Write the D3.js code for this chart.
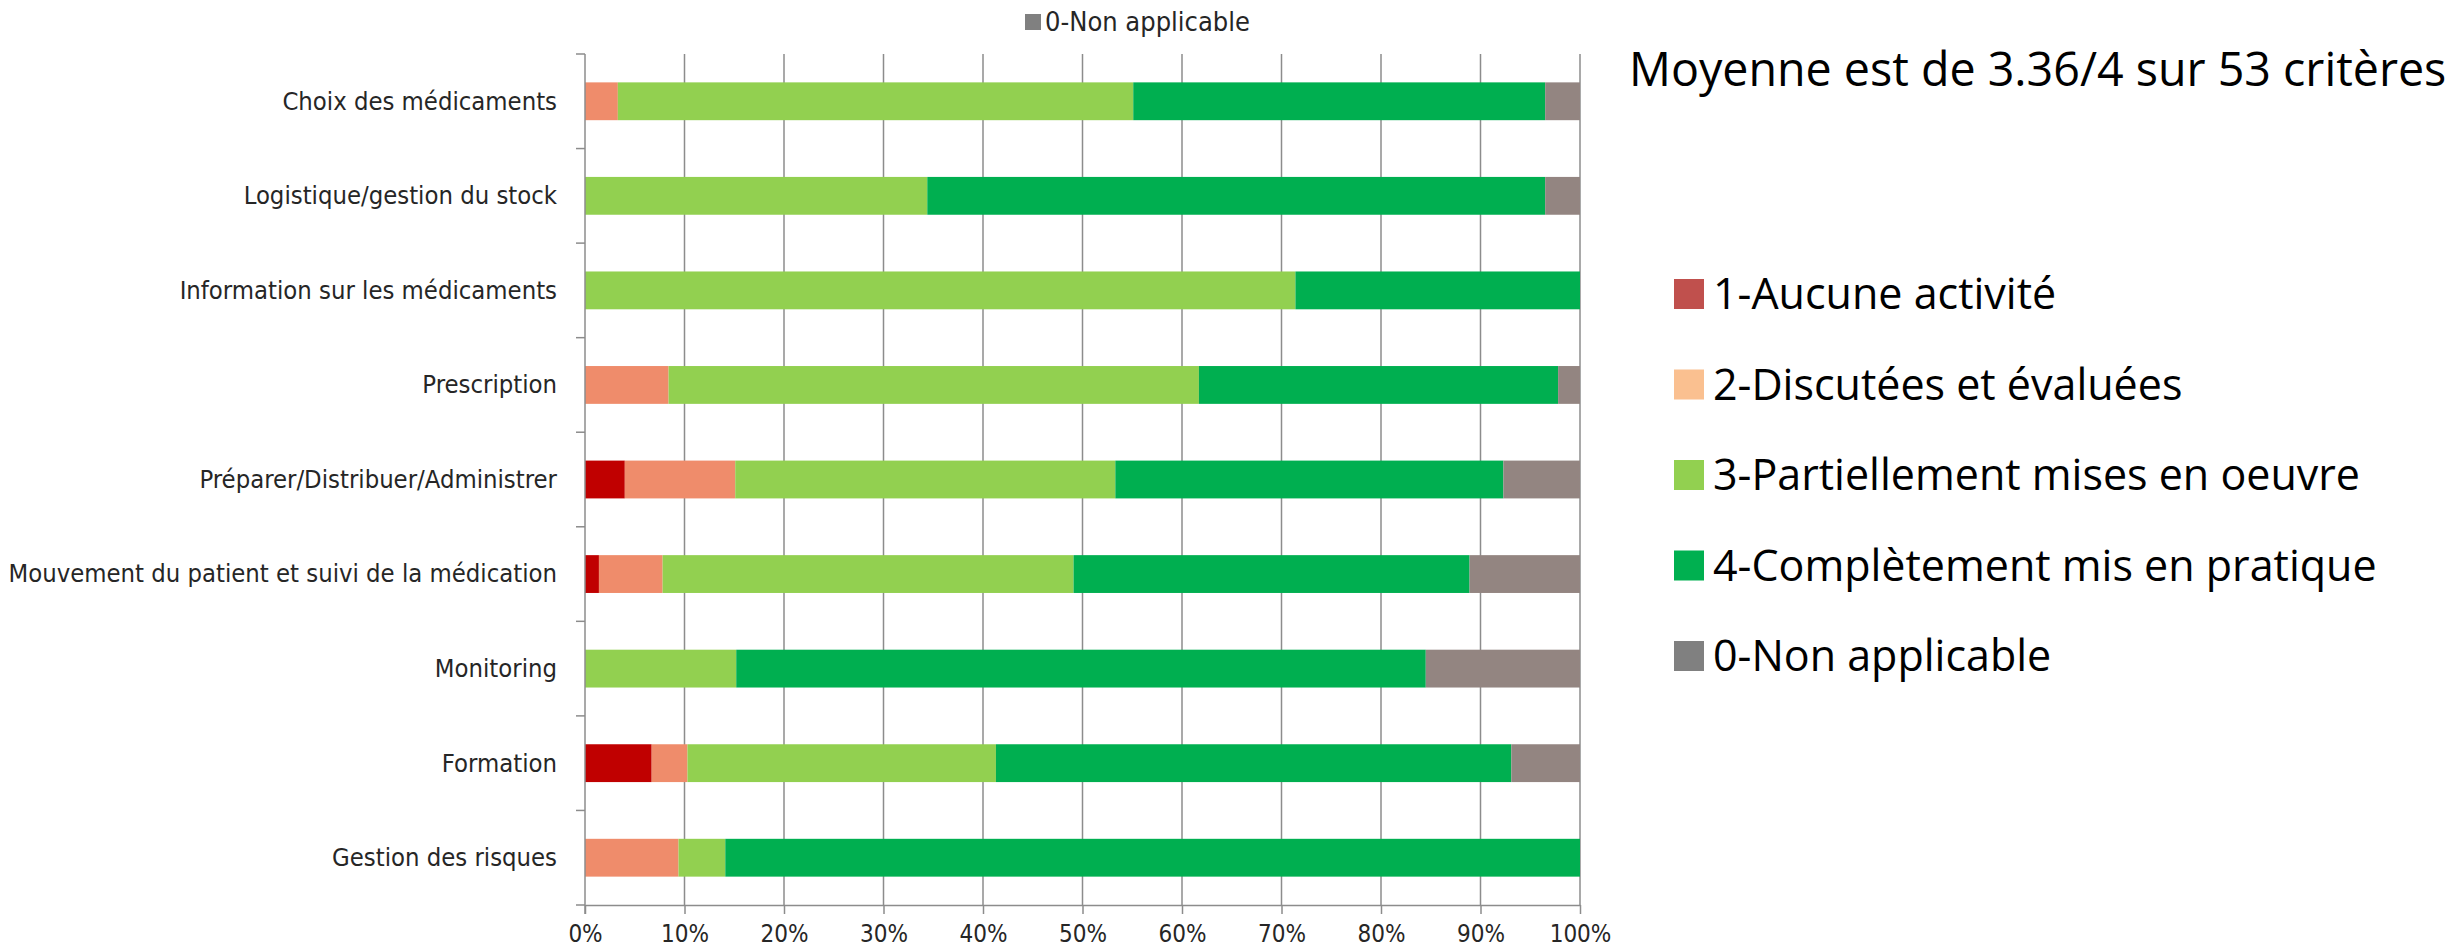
<!DOCTYPE html>
<html>
<head>
<meta charset="utf-8">
<script src="https://cdn.jsdelivr.net/npm/d3@7"></script>
<style>
  body { margin: 0; background: #fff; }
  .lbl { font-family: "Liberation Sans Narrow", "DejaVu Sans Condensed", "Open Sans", sans-serif; fill: #262626; }
  .big { font-family: "Open Sans", "Noto Sans", sans-serif; fill: #000; }
</style>
</head>
<body>
<svg id="chart"></svg>
<script>
// données (en %)
const categories = [
  "Choix des médicaments",
  "Logistique/gestion du stock",
  "Information sur les médicaments",
  "Prescription",
  "Préparer/Distribuer/Administrer",
  "Mouvement du patient et suivi de la médication",
  "Monitoring",
  "Formation",
  "Gestion des risques"
];
const seriesNames = [
  "1-Aucune activité",
  "2-Discutées et évaluées",
  "3-Partiellement mises en oeuvre",
  "4-Complètement mis en pratique",
  "0-Non applicable"
];
const aucune        = [0, 0, 0, 0, 4.0, 1.4, 0, 6.7, 0];
const discutees     = [3.3, 0, 0, 8.4, 11.1, 6.4, 0, 3.6, 9.4];
const partielles    = [51.8, 34.4, 71.4, 53.3, 38.2, 41.3, 15.2, 31.0, 4.7];
const completes     = [41.4, 62.1, 28.6, 36.1, 39.0, 39.8, 69.3, 51.8, 85.9];
const nonApplicable = [3.5, 3.5, 0, 2.2, 7.7, 11.1, 15.5, 6.9, 0];
const xTicks = [0, 10, 20, 30, 40, 50, 60, 70, 80, 90, 100];
const titleText = "Moyenne est de 3.36/4 sur 53 critères";

const barColors = ["#C00000", "#EF8C6B", "#92D050", "#00AF50", "#938581"];
const legendColors = ["#C0504D", "#FAC090", "#92D050", "#00B050", "#808080"];

const W = 2456, H = 950;
const svg = d3.select("#chart").attr("width", W).attr("height", H);
svg.append("rect").attr("width", W).attr("height", H).attr("fill", "#fff");

const plotLeft = 585, plotRight = 1580, plotTop = 54, plotBottom = 905;

const keys = ["a", "d", "p", "c", "n"];
const rows = categories.map((cat, i) => ({
  cat: cat, a: aucune[i], d: discutees[i], p: partielles[i], c: completes[i], n: nonApplicable[i]
}));
const stacked = d3.stack().keys(keys)(rows);

const x = d3.scaleLinear().domain([0, 100]).range([plotLeft, plotRight]);
const y = d3.scaleBand().domain(categories).range([plotTop, plotBottom]).paddingInner(0.6).paddingOuter(0.3);

// grille verticale
svg.append("g")
  .selectAll("line")
  .data(xTicks.slice(1))
  .join("line")
  .attr("x1", d => x(d)).attr("x2", d => x(d))
  .attr("y1", plotTop).attr("y2", plotBottom)
  .attr("stroke", "#8c8c8c").attr("stroke-width", 1.5);

// barres
svg.append("g")
  .selectAll("g")
  .data(stacked)
  .join("g")
  .attr("fill", (d, i) => barColors[i])
  .selectAll("rect")
  .data(d => d)
  .join("rect")
  .attr("x", d => x(d[0]))
  .attr("y", d => y(d.data.cat))
  .attr("width", d => x(d[1]) - x(d[0]))
  .attr("height", y.bandwidth());

// axe X
const xAxis = svg.append("g")
  .attr("transform", `translate(0,${plotBottom})`)
  .call(d3.axisBottom(x).tickValues(xTicks).tickFormat(d => d + "%").tickSize(9).tickSizeOuter(0));
xAxis.select(".domain").attr("stroke", "#8c8c8c").attr("stroke-width", 1.5);
xAxis.selectAll(".tick line").attr("stroke", "#8c8c8c").attr("stroke-width", 1.5);
xAxis.selectAll(".tick text")
  .attr("class", "lbl")
  .attr("y", 20)
  .attr("font-size", 24);

// axe Y : petits traits entre catégories
const yBounds = d3.range(categories.length + 1).map(i => plotTop + i * y.step());
svg.append("line")
  .attr("x1", plotLeft).attr("x2", plotLeft).attr("y1", plotTop).attr("y2", plotBottom + 9)
  .attr("stroke", "#8c8c8c").attr("stroke-width", 1.5);
svg.append("g")
  .selectAll("line")
  .data(yBounds)
  .join("line")
  .attr("x1", plotLeft - 9).attr("x2", plotLeft)
  .attr("y1", d => d).attr("y2", d => d)
  .attr("stroke", "#8c8c8c").attr("stroke-width", 1.5);

svg.append("g")
  .selectAll("text")
  .data(categories)
  .join("text")
  .attr("class", "lbl")
  .attr("x", plotLeft - 28)
  .attr("y", d => y(d) + y.bandwidth() / 2)
  .attr("dy", "0.33em")
  .attr("text-anchor", "end")
  .attr("font-size", 25.4)
  .text(d => d);

// légende Excel (tronquée)
svg.append("rect").attr("x", 1025).attr("y", 14).attr("width", 16).attr("height", 16).attr("fill", "#808080");
svg.append("text").attr("class", "lbl")
  .attr("x", 1045).attr("y", 22).attr("dy", "0.35em")
  .attr("font-size", 27)
  .text(seriesNames[4]);

// titre
svg.append("text").attr("class", "big")
  .attr("x", 1629).attr("y", 70).attr("dy", "0.35em")
  .attr("font-size", 46.6)
  .text(titleText);

// légende de droite
const lg = svg.append("g")
  .selectAll("g")
  .data(seriesNames)
  .join("g")
  .attr("transform", (d, i) => `translate(1674,${294 + i * 90.5})`);
lg.append("rect")
  .attr("x", 0).attr("y", -15)
  .attr("width", 30).attr("height", 30)
  .attr("fill", (d, i) => legendColors[i]);
lg.append("text").attr("class", "big")
  .attr("x", 39).attr("y", 0).attr("dy", "0.35em")
  .attr("font-size", 43)
  .attr("fill", "#111")
  .text(d => d);
</script>
</body>
</html>
